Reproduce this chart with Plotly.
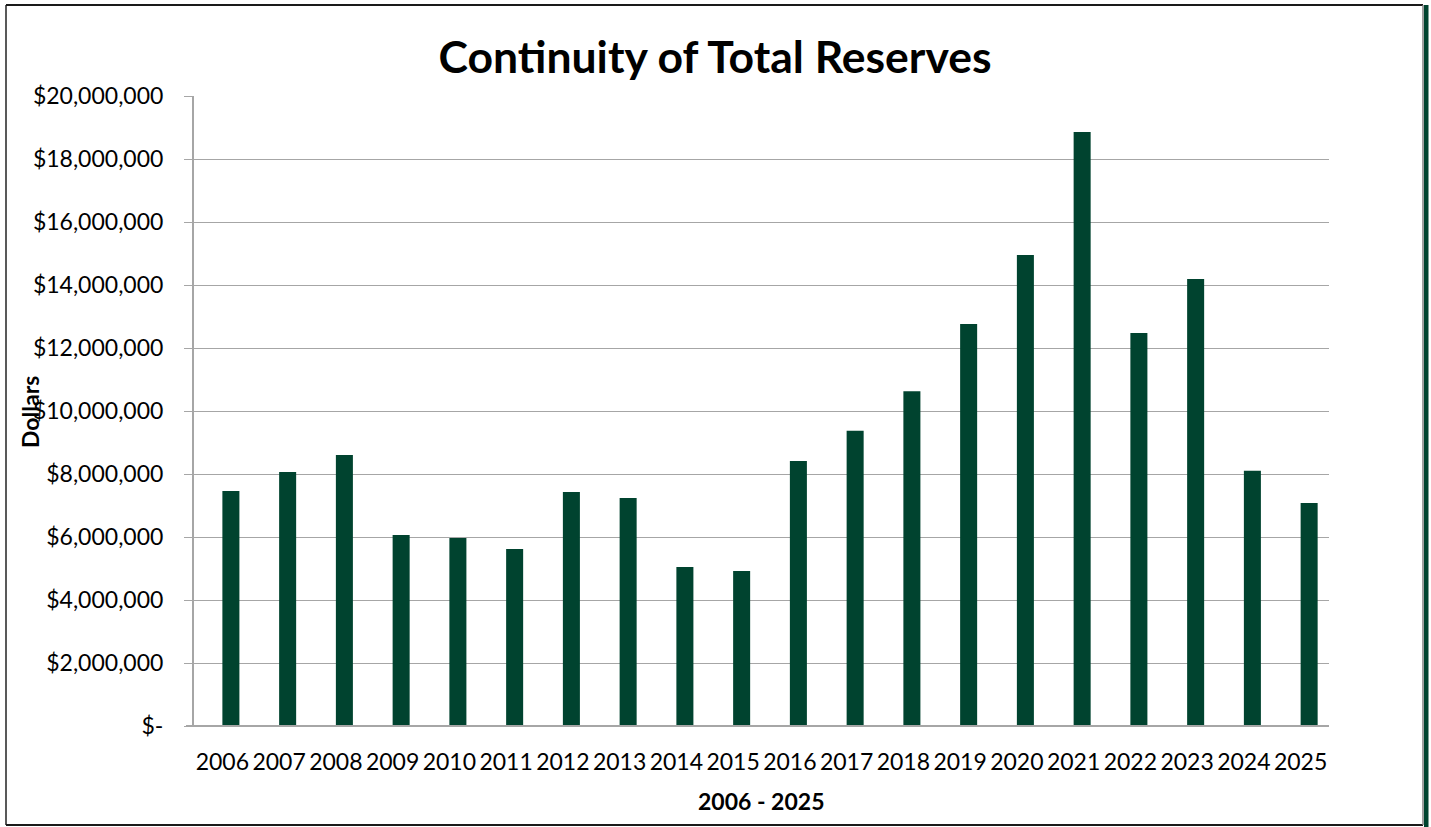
import plotly.graph_objects as go

# Year-end total reserves, 2006-2025 (US dollars)
years = [str(y) for y in range(2006, 2026)]
reserves = [
    7460000, 8060000, 8600000, 6060000, 5970000, 5620000, 7430000, 7240000,
    5050000, 4920000, 8410000, 9370000, 10630000, 12760000, 14950000,
    18860000, 12480000, 14190000, 8100000, 7080000,
]

y_tickvals = [0, 2e6, 4e6, 6e6, 8e6, 10e6, 12e6, 14e6, 16e6, 18e6, 20e6]
y_ticktext = ["$-", "$2,000,000", "$4,000,000", "$6,000,000", "$8,000,000",
              "$10,000,000", "$12,000,000", "$14,000,000", "$16,000,000",
              "$18,000,000", "$20,000,000"]

BAR = "#00432F"
GRID = "#A6A6A6"
FONT = "Lato"

W, H = 1431, 827
L, R, T, B = 194, 102, 96, 101
pw, ph = W - L - R, H - T - B


def px(x):
    return (x - L) / pw


def py(y):
    return (H - B - y) / ph


fig = go.Figure(
    go.Bar(
        x=years,
        y=reserves,
        marker=dict(color=BAR, line=dict(width=0)),
        width=0.3,
        offset=0,
        hoverinfo="x+y",
    )
)

fig.update_layout(
    width=W,
    height=H,
    autosize=False,
    margin=dict(l=L, r=R, t=T, b=B, pad=0, autoexpand=False),
    paper_bgcolor="white",
    plot_bgcolor="white",
    font=dict(family=FONT, color="black", size=23),
    showlegend=False,
    title=dict(
        text="<b>Continuity of Total Reserves</b>",
        x=715 / W,
        xanchor="center",
        y=1 - 57 / H,
        yanchor="middle",
        font=dict(family=FONT, size=44.5, color="black"),
    ),
    xaxis=dict(
        type="category",
        range=[-0.5, 19.5],
        automargin=False,
        showgrid=False,
        showline=False,
        ticks="",
        tickfont=dict(size=23),
        ticklabelstandoff=20,
        fixedrange=True,
    ),
    yaxis=dict(
        range=[0, 20e6],
        automargin=False,
        tickvals=y_tickvals,
        ticktext=y_ticktext,
        showgrid=True,
        gridcolor=GRID,
        gridwidth=1.3,
        showline=True,
        linecolor=GRID,
        linewidth=2,
        ticks="outside",
        ticklen=8,
        tickcolor=GRID,
        tickwidth=1.3,
        tickfont=dict(size=23),
        ticklabelstandoff=16,
        zeroline=False,
        fixedrange=True,
    ),
    annotations=[
        dict(
            text="<b>Dollars</b>",
            textangle=-90,
            xref="paper",
            yref="paper",
            x=px(30),
            y=py(412),
            xanchor="center",
            yanchor="middle",
            showarrow=False,
            font=dict(family=FONT, size=23, color="black"),
        ),
        dict(
            text="<b>2006 - 2025</b>",
            xref="paper",
            yref="paper",
            x=px(761),
            y=py(801),
            xanchor="center",
            yanchor="middle",
            showarrow=False,
            font=dict(family=FONT, size=23, color="black"),
        ),
    ],
    shapes=[
        # chart frame
        dict(type="line", xref="paper", yref="paper",
             x0=px(6), x1=px(6), y0=py(5), y1=py(825),
             line=dict(color="#595959", width=2)),
        dict(type="line", xref="paper", yref="paper",
             x0=px(6), x1=px(1423), y0=py(5), y1=py(5),
             line=dict(color="#1A1A1A", width=2)),
        dict(type="line", xref="paper", yref="paper",
             x0=px(6), x1=px(1423), y0=py(825), y1=py(825),
             line=dict(color="#1A1A1A", width=2)),
        dict(type="line", xref="paper", yref="paper",
             x0=px(1423), x1=px(1423), y0=py(5), y1=py(825),
             line=dict(color="#7F7F7F", width=1.5)),
        dict(type="rect", xref="paper", yref="paper",
             x0=px(1424), x1=px(1428.5), y0=py(5), y1=py(827),
             fillcolor=BAR, line=dict(width=0)),
        # baseline
        dict(type="line", xref="paper", yref="paper",
             x0=px(186), x1=1, y0=0, y1=0,
             line=dict(color=GRID, width=2)),
    ],
)

fig.write_html("out.html")
